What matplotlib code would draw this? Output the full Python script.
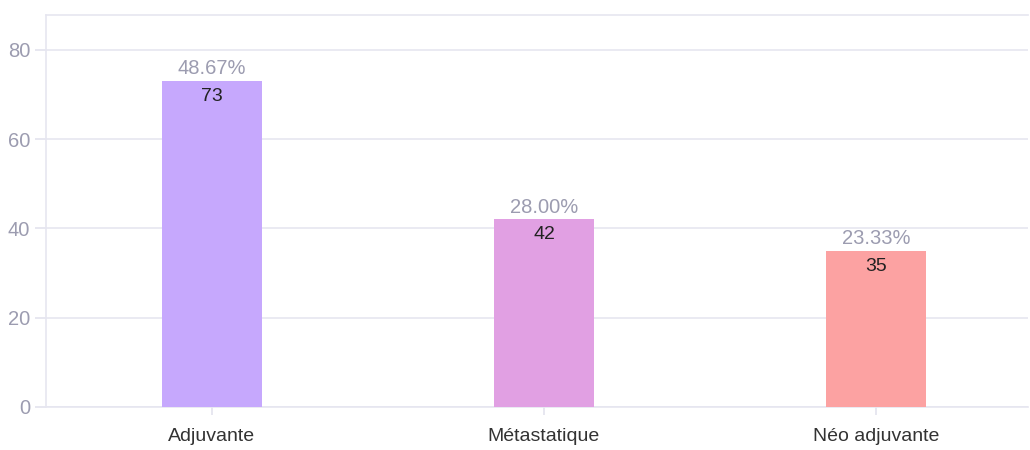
import matplotlib.pyplot as plt

# data
categories = ['Adjuvante', 'Métastatique', 'Néo adjuvante']
counts = [73, 42, 35]
percents = ['48.67%', '28.00%', '23.33%']
colors = ['#c6a8fd', '#e1a0e3', '#fca2a2']
yticks = [0, 20, 40, 60, 80]

plt.rcParams['font.family'] = ['Liberation Sans', 'DejaVu Sans']

fig = plt.figure(figsize=(10.3, 4.5), dpi=100)
ax = fig.add_axes([46 / 1030, 43 / 450, 982 / 1030, 392 / 450])

x = list(range(len(categories)))
bars = ax.bar(x, counts, width=0.301, color=colors, zorder=3)

for b, c, p in zip(bars, counts, percents):
    cx = b.get_x() + b.get_width() / 2
    ax.annotate(p, (cx, c), xytext=(0, 2), textcoords='offset points',
                ha='center', va='bottom', fontsize=14.5, color='#9c9cb0')
    ax.annotate(str(c), (cx, c), xytext=(0, -5), textcoords='offset points',
                ha='center', va='top', fontsize=14, color='#222222')

ax.set_xlim(-0.5, 2.458)
ax.set_ylim(0, 87.8)
ax.set_xticks(x)
ax.set_xticklabels(categories, fontsize=14, color='#333333')
ax.set_yticks(yticks)
ax.tick_params(axis='y', labelsize=14.5, labelcolor='#9c9cb0', color='#e3e3ee', length=8, width=1.2)
ax.tick_params(axis='x', color='#e3e3ee', length=6, width=1.2, pad=9)
ax.grid(axis='y', color='#e6e6f0', linewidth=1.2, zorder=0)
for s in ['left', 'top', 'bottom']:
    ax.spines[s].set_color('#e6e6f0')
    ax.spines[s].set_linewidth(1.2)
ax.spines['right'].set_visible(False)

fig.savefig('out.png')
